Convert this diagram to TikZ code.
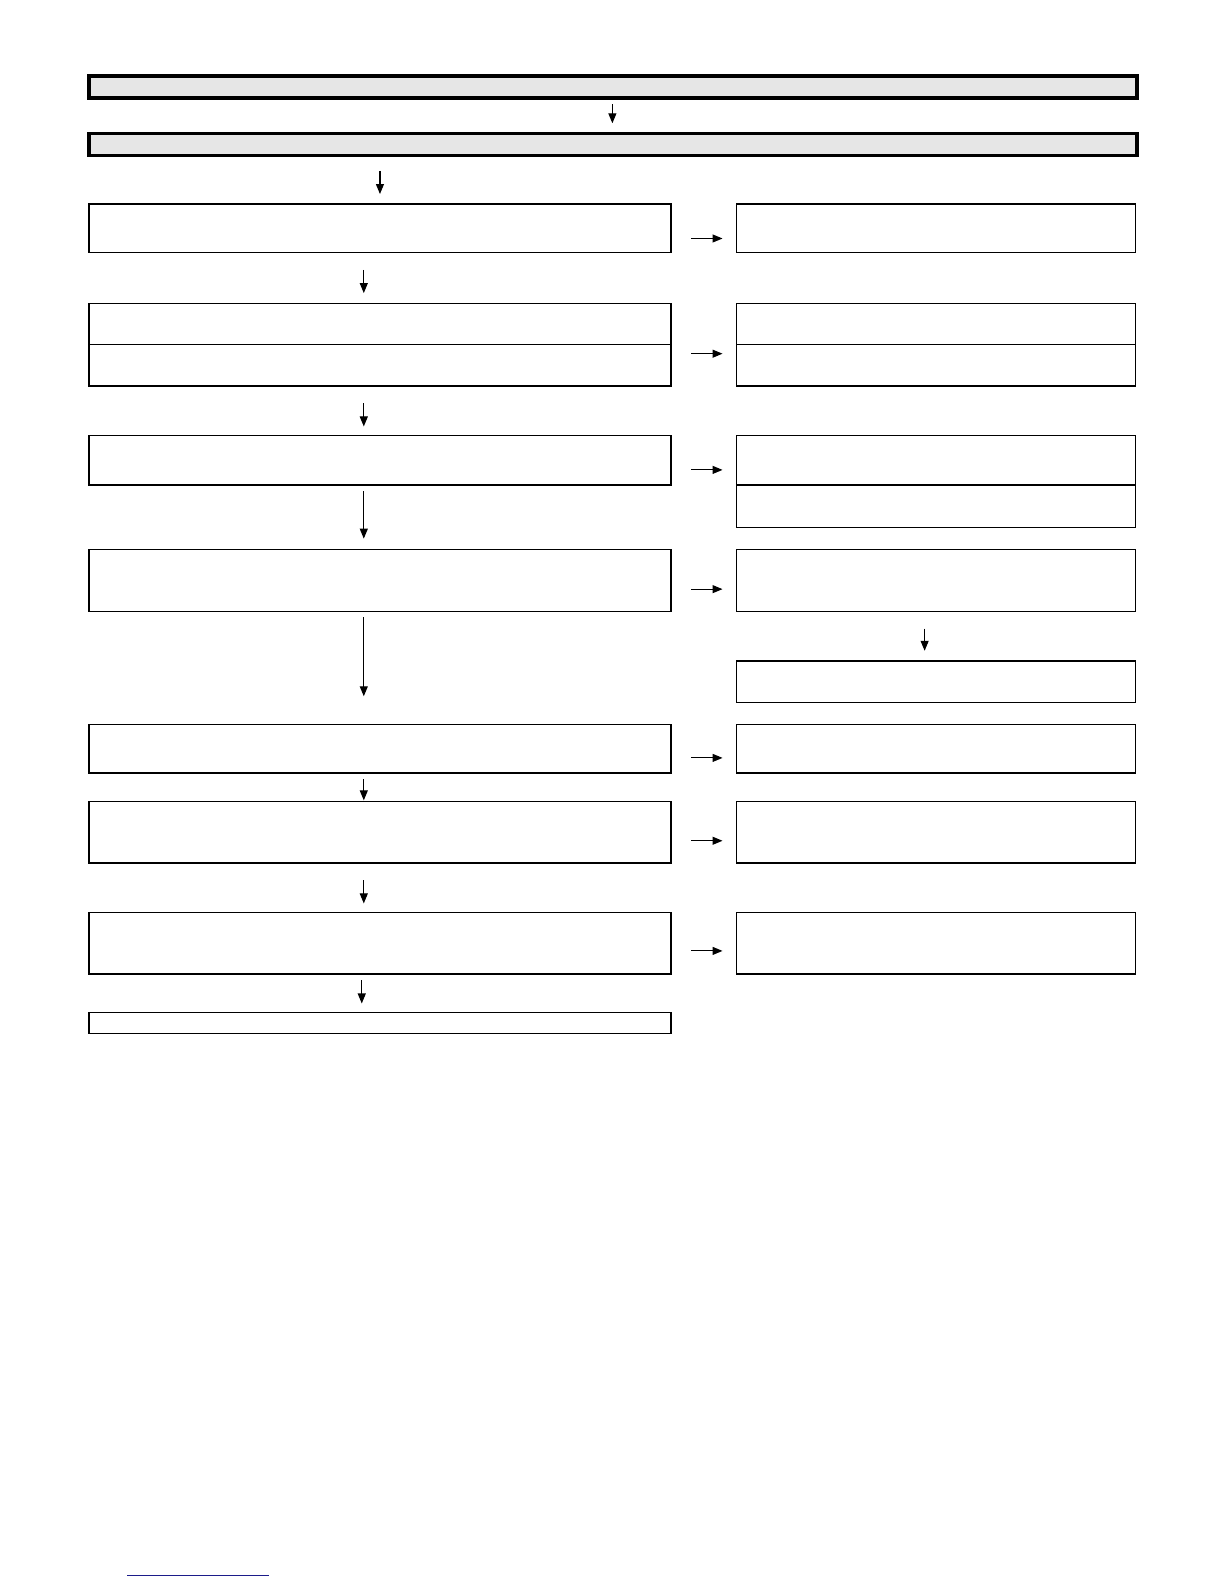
\documentclass[tikz,border=0pt]{standalone}
\usetikzlibrary{arrows.meta}
\definecolor{boxgray}{HTML}{E6E6E6}
\definecolor{linkblue}{HTML}{1C1C8A}
\begin{document}
\begin{tikzpicture}[x=1.0105pt,y=-1.0105pt,
  thickbox/.style={draw=black,line width=3.5pt,fill=boxgray,rectangle,inner sep=0pt,outer sep=0pt,minimum width=1047.9pt,minimum height=22.2pt},
  lbox/.style={draw=black,line width=1.3pt,rectangle,inner sep=0pt,outer sep=0pt,minimum width=582pt},
  rbox/.style={draw=black,line width=1.3pt,rectangle,inner sep=0pt,outer sep=0pt,minimum width=399.1pt},
  arr/.style={draw=black,line width=1.1pt,-{Triangle[length=10pt,width=8pt]}}]
\useasboundingbox (0,0) rectangle (1211.3,1567.5);
\fill[white] (0,0) rectangle (1211.3,1567.5);
% top boxes
\node[thickbox] (t1) at (606.5,86) {};
\node[thickbox] (t2) at (606.5,143) {};
% left column
\node[lbox,minimum height=48.5pt] (l1) at (376,226) {};
\node[lbox,minimum height=41.4pt] (l2a) at (376,320.5) {};
\node[lbox,minimum height=41.4pt] (l2b) at (376,361.5) {};
\node[lbox,minimum height=49.5pt] (l3) at (376,455.5) {};
\node[lbox,minimum height=61.6pt] (l4) at (376,574.5) {};
\node[lbox,minimum height=48.5pt] (l5) at (376,741) {};
\node[lbox,minimum height=61.6pt] (l6) at (376,823.5) {};
\node[lbox,minimum height=61.6pt] (l7) at (376,933.5) {};
\node[lbox,minimum height=21.2pt] (l8) at (376,1012.5) {};
% right column
\node[rbox,minimum height=48.5pt] (r1) at (926.5,226) {};
\node[rbox,minimum height=41.4pt] (r2a) at (926.5,320.5) {};
\node[rbox,minimum height=41.4pt] (r2b) at (926.5,361.5) {};
\node[rbox,minimum height=49.5pt] (r3a) at (926.5,455.5) {};
\node[rbox,minimum height=42.4pt] (r3b) at (926.5,501) {};
\node[rbox,minimum height=61.6pt] (r4) at (926.5,574.5) {};
\node[rbox,minimum height=41.4pt] (r4b) at (926.5,674.5) {};
\node[rbox,minimum height=48.5pt] (r5) at (926.5,741) {};
\node[rbox,minimum height=61.6pt] (r6) at (926.5,823.5) {};
\node[rbox,minimum height=61.6pt] (r7) at (926.5,933.5) {};
% arrow end points
\coordinate (a0s) at (606,103); \coordinate (a0e) at (606,122);
\coordinate (a1s) at (376,169); \coordinate (a1e) at (376,192);
\coordinate (a2s) at (360,267); \coordinate (a2e) at (360,290);
\coordinate (a3s) at (360,399); \coordinate (a3e) at (360,422);
\coordinate (a4s) at (360,486); \coordinate (a4e) at (360,533);
\coordinate (a5s) at (360,611); \coordinate (a5e) at (360,689);
\coordinate (a6s) at (360,771); \coordinate (a6e) at (360,792);
\coordinate (a7s) at (360,871); \coordinate (a7e) at (360,894);
\coordinate (a8s) at (358,970); \coordinate (a8e) at (358,993);
\coordinate (ars) at (915,622); \coordinate (are) at (915,644);
\coordinate (h1s) at (684,236); \coordinate (h1e) at (715,236);
\coordinate (h2s) at (684,350); \coordinate (h2e) at (715,350);
\coordinate (h3s) at (684,465); \coordinate (h3e) at (715,465);
\coordinate (h4s) at (684,583); \coordinate (h4e) at (715,583);
\coordinate (h5s) at (684,750); \coordinate (h5e) at (715,750);
\coordinate (h6s) at (684,832); \coordinate (h6e) at (715,832);
\coordinate (h7s) at (684,941); \coordinate (h7e) at (715,941);
% arrows
\foreach \a in {a0,a1,a2,a3,a4,a5,a6,a7,a8,ar,h1,h2,h3,h4,h5,h6,h7}
  \draw[arr] (\a s) -- (\a e);
% bottom blue rule
\coordinate (bl1) at (126,1559); \coordinate (bl2) at (266,1559);
\draw[linkblue,line width=1.2pt] (bl1) -- (bl2);
\end{tikzpicture}
\end{document}
